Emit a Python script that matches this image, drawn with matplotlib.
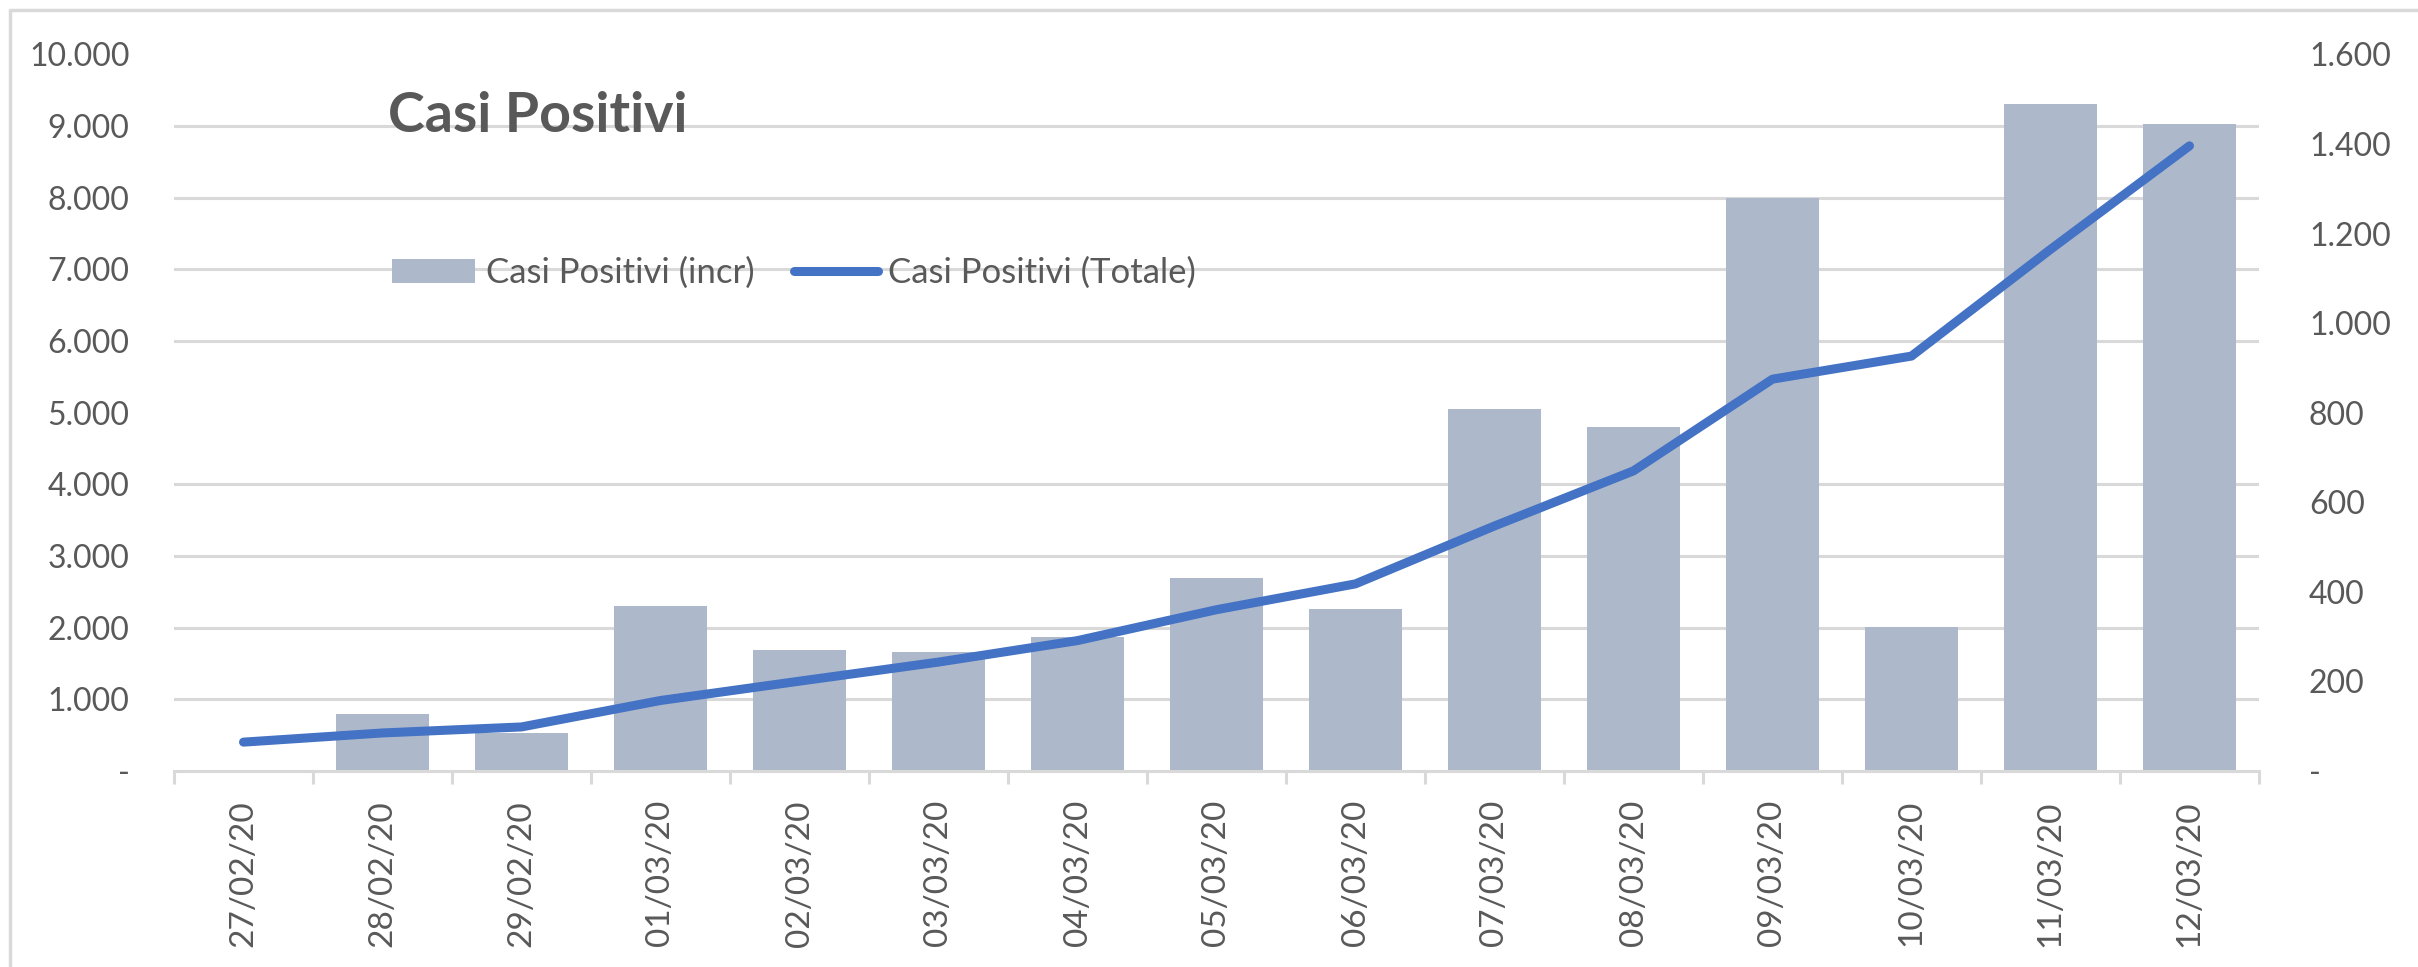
import matplotlib.pyplot as plt
import matplotlib.ticker as mticker
from matplotlib.lines import Line2D
import numpy as np

plt.rcParams['font.family'] = ['Lato', 'DejaVu Sans']

dates = ['27/02/20', '28/02/20', '29/02/20', '01/03/20', '02/03/20', '03/03/20',
         '04/03/20', '05/03/20', '06/03/20', '07/03/20', '08/03/20', '09/03/20',
         '10/03/20', '11/03/20', '12/03/20']
incr = [0, 128, 84, 369, 270, 266, 300, 431, 361, 808, 769, 1280, 322, 1489, 1445]
totale = [403, 531, 615, 984, 1254, 1520, 1820, 2251, 2612, 3420, 4189, 5469,
          5791, 7280, 8725]

txt = '#595959'
grid_c = '#d9d9d9'
bar_c = '#adb9ca'
line_c = '#4472c4'


def dotfmt(v, pos):
    if v == 0:
        return '-'
    return '{:,.0f}'.format(v).replace(',', '.')


fig = plt.figure(figsize=(24.18, 9.67), dpi=100)
ax = fig.add_axes([174 / 2418, 1 - 771 / 967, (2259 - 174) / 2418, (771 - 54.5) / 967])
ax2 = ax.twinx()
ax.set_zorder(ax2.get_zorder() + 1)
ax.patch.set_visible(False)

x = np.arange(len(dates))

# bars on the right axis
ax2.bar(x, incr, width=0.67, color=bar_c, zorder=2, label='Casi Positivi (incr)')
ax2.set_ylim(0, 1600)
ax2.yaxis.set_major_locator(mticker.MultipleLocator(200))
ax2.yaxis.set_minor_locator(mticker.MultipleLocator(160))
ax2.yaxis.set_major_formatter(mticker.FuncFormatter(dotfmt))
ax2.grid(which='minor', axis='y', color=grid_c, lw=2.2, zorder=0)
ax2.set_axisbelow(True)

# line on the left axis
ax.plot(x, totale, color=line_c, lw=6.5, solid_capstyle='round',
        solid_joinstyle='round', zorder=3, label='Casi Positivi (Totale)')
ax.set_ylim(0, 10000)
ax.yaxis.set_major_locator(mticker.MultipleLocator(1000))
ax.yaxis.set_major_formatter(mticker.FuncFormatter(dotfmt))

ax.set_xlim(-0.5, len(dates) - 0.5)
ax.set_xticks(x)
ax.set_xticklabels(dates, rotation=90)
ax.set_xticks(np.arange(len(dates) + 1) - 0.5, minor=True)

for a in (ax, ax2):
    for s in a.spines.values():
        s.set_visible(False)
ax.spines['bottom'].set_visible(True)
ax.spines['bottom'].set_color(grid_c)
ax.spines['bottom'].set_linewidth(2.2)

ax.tick_params(axis='x', which='major', length=0, pad=21, labelsize=24, labelcolor=txt)
ax.tick_params(axis='x', which='minor', length=9, width=2.2, color=grid_c)
ax.tick_params(axis='y', length=0, pad=32, labelsize=23, labelcolor=txt)
ax2.tick_params(axis='y', which='both', length=0, pad=36, labelsize=23, labelcolor=txt)

fig.text(388 / 2418, 1 - 132 / 967, 'Casi Positivi', fontsize=40, fontweight='bold',
         color=txt, ha='left', va='baseline')

h1, l1 = ax2.get_legend_handles_labels()
h2, l2 = ax.get_legend_handles_labels()
ax.legend(h1 + h2, l1 + l2, ncol=2, loc='center left', frameon=False,
          bbox_to_anchor=(392 / 2418, 1 - 273 / 967), bbox_transform=fig.transFigure,
          borderaxespad=0, borderpad=0, fontsize=25, labelcolor=txt,
          handlelength=2.4, handletextpad=0.3, columnspacing=1.15)

# chart area frame (only left and top edges are in the picture)
fig.lines.append(Line2D([10 / 2418, 10 / 2418, 1.0], [0.0, 1 - 10 / 967, 1 - 10 / 967],
                        transform=fig.transFigure, color=grid_c, lw=2.5))

fig.savefig('out.png', dpi=100, facecolor='white')
